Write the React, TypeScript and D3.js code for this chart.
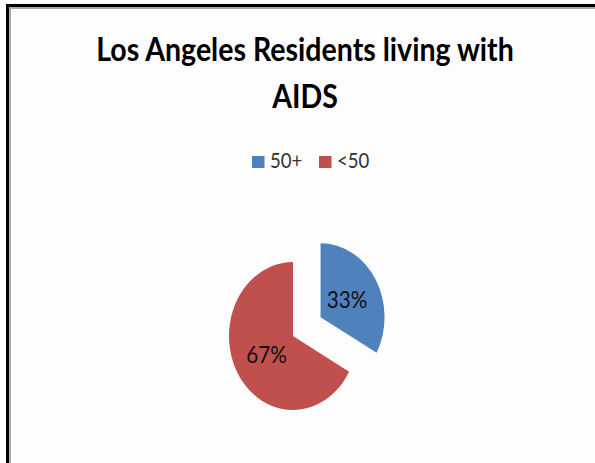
import React from 'react';
import { pie, arc } from 'd3';

// chart data
const categories = ['50+', '<50'];
const values = [33, 67];
const colors = ['#4F81BD', '#C0504D'];
const titleLines = ['Los Angeles Residents living with', 'AIDS'];

const W = 595;
const H = 463;
// the picture looks squeezed sideways, so draw wide and squeeze
const sx = 0.865;

export default function App() {
  const cx = 293 / sx;
  const cy = 336;
  const r = 74;

  const slices = pie<number>().sort(null).value((d) => d)(values);
  const arcGen = arc<any>().innerRadius(0).outerRadius(r);
  const explode = [37, 0];

  const total = values.reduce((a, b) => a + b, 0);

  // legend layout
  const legendItems = categories.map((c, i) => ({ c, i }));

  return (
    <svg width={W} height={H} style={{ position: 'absolute', left: 0, top: 0, background: '#fff' }}>
      <rect x={0} y={0} width={W} height={H} fill="#fdfdfd" />
      {/* frame */}
      <rect x={6} y={4} width={W} height={3} fill="#000" />
      <rect x={6} y={4} width={3} height={H} fill="#000" />
      <rect x={9} y={7} width={W} height={2} fill="#aaa" />
      <rect x={9} y={7} width={2} height={H} fill="#aaa" />

      <g transform={`scale(${sx},1)`}>
        {/* title */}
        {titleLines.map((t, i) => (
          <text
            key={i}
            x={305 / sx}
            y={61 + i * 47}
            textAnchor="middle"
            fontFamily="Lato, 'Open Sans', sans-serif"
            fontWeight="bold"
            fontSize={33}
            fill="#000"
          >
            {t}
          </text>
        ))}

        {/* legend */}
        {legendItems.map(({ c, i }) => {
          const x0 = (i === 0 ? 252 : 319) / sx;
          return (
            <g key={c}>
              <rect x={x0} y={156} width={12.5 / sx} height={12} fill={colors[i]} />
              <text
                x={x0 + 18 / sx}
                y={168}
                fontFamily="Lato, 'Open Sans', sans-serif"
                fontSize={21.5}
                fill="#333"
              >
                {c}
              </text>
            </g>
          );
        })}

        {/* pie */}
        <g transform={`translate(${cx},${cy})`}>
          {slices.map((s, i) => {
            const mid = (s.startAngle + s.endAngle) / 2;
            const ox = Math.sin(mid) * explode[i];
            const oy = -Math.cos(mid) * explode[i];
            const lr = r * 0.48;
            const lx = ox + Math.sin(mid) * lr;
            const ly = oy - Math.cos(mid) * lr;
            return (
              <g key={i}>
                <path d={arcGen(s) as string} transform={`translate(${ox},${oy})`} fill={colors[i]} />
                <text
                  x={lx}
                  y={ly}
                  dy="0.36em"
                  textAnchor="middle"
                  fontFamily="Lato, 'Open Sans', sans-serif"
                  fontSize={24}
                  fill="#111"
                >
                  {Math.round((values[i] / total) * 100)}%
                </text>
              </g>
            );
          })}
        </g>
      </g>
    </svg>
  );
}
